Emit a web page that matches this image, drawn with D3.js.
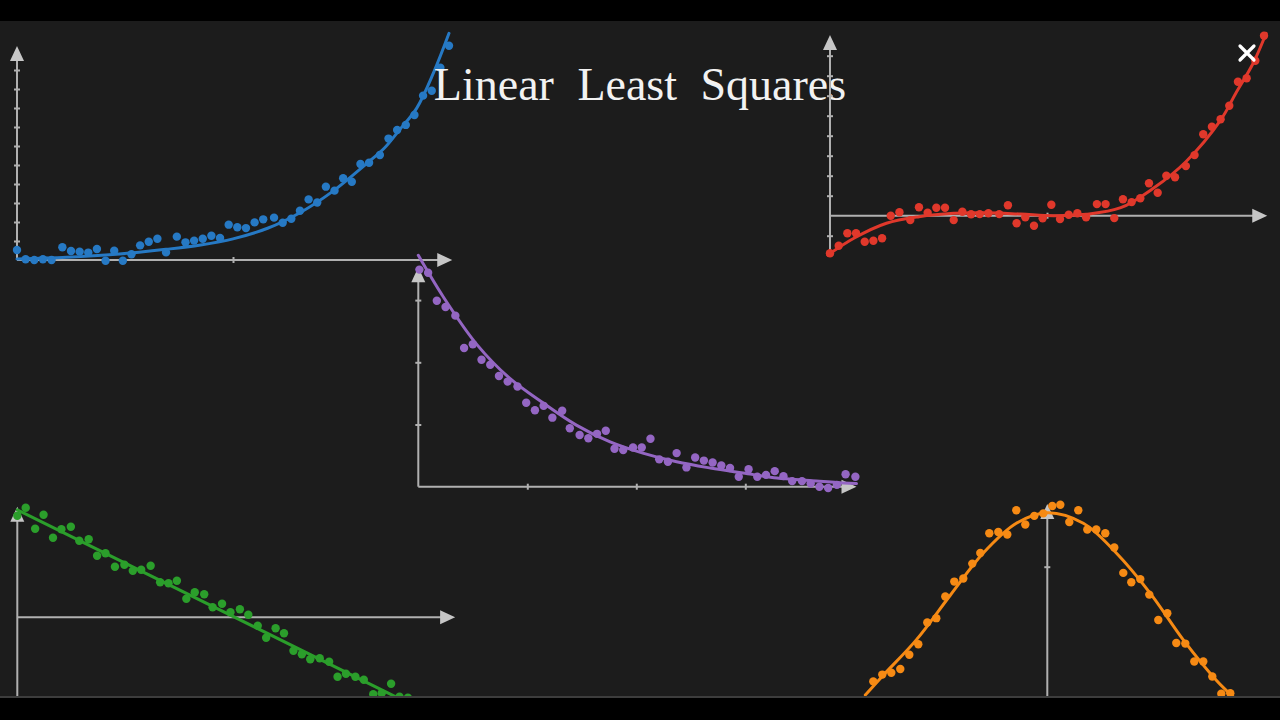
<!DOCTYPE html>
<html><head><meta charset="utf-8">
<script src="https://cdn.jsdelivr.net/npm/d3@7"></script>
<style>html,body{margin:0;padding:0;background:#000;overflow:hidden}</style>
</head><body><svg id="c" width="1280" height="720"></svg>
<script>
const titleText = "Linear Least Squares";

// ---- Blue panel (exponential growth) ----
const blueDots = [[0.00,0.53],[0.04,0.04],[0.08,0.00],[0.12,0.04],[0.16,0.00],[0.21,0.67],[0.25,0.47],[0.29,0.44],[0.33,0.39],[0.37,0.58],[0.41,-0.04],[0.45,0.49],[0.49,-0.04],[0.53,0.30],[0.57,0.77],[0.61,0.96],[0.65,1.12],[0.69,0.40],[0.74,1.23],[0.78,0.93],[0.82,1.02],[0.86,1.12],[0.90,1.28],[0.94,1.16],[0.98,1.86],[1.02,1.72],[1.06,1.68],[1.10,1.98],[1.14,2.14],[1.19,2.23],[1.23,1.96],[1.27,2.17],[1.31,2.59],[1.35,3.19],[1.39,3.03],[1.43,3.86],[1.47,3.65],[1.51,4.30],[1.55,4.12],[1.59,5.05],[1.63,5.12],[1.68,5.53],[1.72,6.39],[1.76,6.84],[1.80,7.11],[1.84,7.63],[1.88,8.65],[1.92,8.91],[1.96,10.12],[2.00,11.28]];
const blueFit = [[0.00,0.05],[0.23,0.14],[0.46,0.30],[0.69,0.56],[0.85,0.79],[1.00,1.11],[1.16,1.67],[1.31,2.49],[1.46,3.60],[1.62,5.09],[1.70,5.88],[1.77,6.84],[1.85,7.98],[1.93,9.90],[2.00,11.93]];
const blueXTicks = [1];
const blueYTicks = [1,2,3,4,5,6,7,8,9,10];

// ---- Red panel (cubic) ----
const redDots = [[0.00,-1.88],[0.04,-1.50],[0.08,-0.88],[0.12,-0.88],[0.16,-1.30],[0.20,-1.25],[0.24,-1.13],[0.28,0.00],[0.32,0.17],[0.37,-0.22],[0.41,0.42],[0.45,0.15],[0.49,0.40],[0.53,0.40],[0.57,-0.22],[0.61,0.20],[0.65,0.07],[0.69,0.08],[0.73,0.12],[0.78,0.08],[0.82,0.52],[0.86,-0.38],[0.90,-0.08],[0.94,-0.50],[0.98,-0.13],[1.02,0.55],[1.06,-0.17],[1.10,0.05],[1.14,0.12],[1.18,-0.08],[1.23,0.58],[1.27,0.58],[1.31,-0.12],[1.35,0.82],[1.39,0.68],[1.43,0.87],[1.47,1.62],[1.51,1.15],[1.55,2.00],[1.59,1.92],[1.64,2.48],[1.68,3.03],[1.72,4.07],[1.76,4.45],[1.80,4.82],[1.84,5.50],[1.88,6.70],[1.92,6.87],[1.96,7.75],[2.00,9.00]];
const redFit = [[-0.01,-1.97],[0.11,-1.13],[0.26,-0.38],[0.41,-0.05],[0.57,0.12],[0.72,0.15],[0.88,0.08],[1.03,0.00],[1.18,0.07],[1.34,0.40],[1.49,1.37],[1.64,2.70],[1.80,4.78],[1.87,6.12],[1.95,7.62],[2.01,9.12]];
const redXTicks = [1];
const redYTicks = [-1,1,2,3,4,5,6,7,8];

// ---- Purple panel (exponential decay) ----
const purpleDots = [[0.01,3.49],[0.09,3.44],[0.17,2.99],[0.25,2.89],[0.34,2.75],[0.42,2.23],[0.50,2.29],[0.58,2.04],[0.66,1.96],[0.74,1.78],[0.82,1.69],[0.91,1.61],[0.99,1.35],[1.07,1.23],[1.15,1.30],[1.23,1.11],[1.32,1.22],[1.39,0.94],[1.48,0.83],[1.56,0.78],[1.64,0.85],[1.72,0.90],[1.80,0.61],[1.88,0.59],[1.97,0.63],[2.05,0.63],[2.13,0.77],[2.21,0.44],[2.29,0.40],[2.37,0.54],[2.46,0.31],[2.54,0.47],[2.62,0.42],[2.70,0.39],[2.78,0.34],[2.86,0.30],[2.94,0.16],[3.03,0.28],[3.11,0.16],[3.19,0.19],[3.27,0.25],[3.35,0.17],[3.43,0.09],[3.52,0.09],[3.60,0.05],[3.68,0.00],[3.76,-0.02],[3.84,0.03],[3.92,0.20],[4.01,0.16]];
const purpleFit = [[0.00,3.72],[0.23,3.05],[0.54,2.28],[0.84,1.74],[1.15,1.34],[1.45,0.99],[1.76,0.72],[2.06,0.54],[2.37,0.40],[2.68,0.30],[2.98,0.22],[3.29,0.14],[3.59,0.10],[3.90,0.06],[4.02,0.05]];
const purpleXTicks = [1,2,3];
const purpleYTicks = [1,2,3];

// ---- Green panel (straight line) ----
const greenDots = [[0.00,2.03],[0.08,2.19],[0.17,1.77],[0.25,2.05],[0.34,1.59],[0.42,1.76],[0.51,1.81],[0.59,1.53],[0.68,1.56],[0.76,1.23],[0.84,1.28],[0.93,1.01],[1.02,1.05],[1.10,0.93],[1.18,0.95],[1.27,1.03],[1.36,0.70],[1.44,0.68],[1.52,0.73],[1.61,0.37],[1.69,0.50],[1.78,0.46],[1.86,0.20],[1.95,0.27],[2.03,0.10],[2.12,0.16],[2.20,0.05],[2.29,-0.17],[2.37,-0.41],[2.46,-0.22],[2.54,-0.32],[2.63,-0.67],[2.71,-0.74],[2.79,-0.84],[2.88,-0.82],[2.97,-0.89],[3.05,-1.19],[3.13,-1.13],[3.22,-1.19],[3.30,-1.25],[3.39,-1.54],[3.47,-1.52],[3.56,-1.33],[3.64,-1.59],[3.72,-1.61]];
const greenFit = [[0.00,2.15],[4.00,-2.00]];
const greenXTicks = [];
const greenYTicks = [];

// ---- Orange panel (Gaussian) ----
const orangeDots = [[-1.74,1.15],[-1.65,1.26],[-1.56,1.29],[-1.47,1.35],[-1.38,1.58],[-1.29,1.75],[-1.20,2.10],[-1.11,2.17],[-1.02,2.52],[-0.93,2.76],[-0.84,2.81],[-0.75,3.05],[-0.67,3.22],[-0.58,3.54],[-0.49,3.56],[-0.40,3.52],[-0.31,3.91],[-0.22,3.68],[-0.13,3.82],[-0.04,3.86],[0.05,3.98],[0.13,4.00],[0.22,3.72],[0.31,3.91],[0.40,3.60],[0.49,3.60],[0.58,3.54],[0.67,3.31],[0.76,2.90],[0.84,2.75],[0.93,2.80],[1.02,2.55],[1.11,2.14],[1.20,2.25],[1.29,1.77],[1.38,1.76],[1.47,1.47],[1.56,1.47],[1.65,1.23],[1.74,0.95],[1.83,0.96]];
const orangeFit = [[-1.82,0.93],[-1.64,1.25],[-1.31,1.82],[-0.97,2.54],[-0.64,3.22],[-0.31,3.70],[0.00,3.87],[0.36,3.70],[0.69,3.22],[1.03,2.57],[1.36,1.82],[1.69,1.17],[1.86,0.90]];
const orangeXTicks = [];
const orangeYTicks = [3];

const svg = d3.select("#c");
svg.append("rect").attr("width",1280).attr("height",720).attr("fill","#1c1c1c");

const AXIS = "#b0b0b0", ARROW = "#c6c6c6", AL = 15, AW = 7;

function drawPanel(p) {
  const x = d3.scaleLinear().domain([0,1]).range([p.ox, p.ox + p.ux]);
  const y = d3.scaleLinear().domain([0,1]).range([p.oy, p.oy - p.uy]);
  const g = svg.append("g");
  const y0 = y(0), x0 = x(0);
  // x axis
  const xe = x(p.xAxis[1]);
  g.append("line").attr("x1", x(p.xAxis[0])).attr("x2", xe - AL + 1).attr("y1", y0).attr("y2", y0)
    .attr("stroke", AXIS).attr("stroke-width", 2);
  g.append("path").attr("d", `M${xe},${y0}L${xe-AL},${y0-AW}L${xe-AL},${y0+AW}Z`).attr("fill", ARROW);
  // y axis
  const ye = y(p.yAxis[1]);
  g.append("line").attr("x1", x0).attr("x2", x0).attr("y1", y(p.yAxis[0])).attr("y2", ye + AL - 1)
    .attr("stroke", AXIS).attr("stroke-width", 2);
  g.append("path").attr("d", `M${x0},${ye}L${x0-AW},${ye+AL}L${x0+AW},${ye+AL}Z`).attr("fill", ARROW);
  // ticks
  const gx = g.append("g").attr("transform", `translate(0,${y0-3})`)
    .call(d3.axisBottom(x).tickValues(p.xTicks).tickSize(6).tickFormat(""));
  gx.select(".domain").remove();
  gx.selectAll("line").attr("stroke", AXIS).attr("stroke-width", 2);
  const gy = g.append("g").attr("transform", `translate(${x0+3},0)`)
    .call(d3.axisLeft(y).tickValues(p.yTicks).tickSize(6).tickFormat(""));
  gy.select(".domain").remove();
  gy.selectAll("line").attr("stroke", AXIS).attr("stroke-width", 2);
  // fit curve
  const line = d3.line().x(d => x(d[0])).y(d => y(d[1])).curve(d3.curveCatmullRom.alpha(0.5));
  g.append("path").datum(p.fit).attr("d", line).attr("fill", "none")
    .attr("stroke", p.color).attr("stroke-width", 3).attr("stroke-linecap", "round");
  // dots
  g.selectAll("circle.d").data(p.dots).join("circle").attr("class","d")
    .attr("cx", d => x(d[0])).attr("cy", d => y(d[1])).attr("r", 4.2).attr("fill", p.color);
}

drawPanel({ox:17, oy:260, ux:216, uy:19, xAxis:[0,2.015], yAxis:[0,11.26],
  xTicks:blueXTicks, yTicks:blueYTicks, dots:blueDots, fit:blueFit, color:"#2679c4"});

svg.append("text").attr("x", 640).attr("y", 100).attr("text-anchor","middle")
  .attr("font-family","'Liberation Serif', 'DejaVu Serif', serif").attr("font-size", 46)
  .attr("word-spacing", 12).attr("fill", "#f2f2f2").text(titleText);

drawPanel({ox:830, oy:215.7, ux:217, uy:20, xAxis:[0,2.015], yAxis:[-1.9,9.04],
  xTicks:redXTicks, yTicks:redYTicks, dots:redDots, fit:redFit, color:"#e0382b"});
drawPanel({ox:418.3, oy:486.7, ux:109, uy:62.2, xAxis:[0,4.02], yAxis:[0,3.53],
  xTicks:purpleXTicks, yTicks:purpleYTicks, dots:purpleDots, fit:purpleFit, color:"#9466c3"});
drawPanel({ox:17.3, oy:617.3, ux:105, uy:50, xAxis:[0,4.17], yAxis:[-2.2,2.21],
  xTicks:greenXTicks, yTicks:greenYTicks, dots:greenDots, fit:greenFit, color:"#2b9e2b"});
drawPanel({ox:1047.3, oy:752.7, ux:100, uy:62, xAxis:[-2.2,2.2], yAxis:[0,4.01],
  xTicks:orangeXTicks, yTicks:orangeYTicks, dots:orangeDots, fit:orangeFit, color:"#f68a14"});

// close icon
svg.append("path").attr("d","M1240,46L1254,60M1254,46L1240,60").attr("stroke","#ffffff")
  .attr("stroke-width",3.2).attr("stroke-linecap","round");

// letterbox bars
svg.append("rect").attr("x",0).attr("y",0).attr("width",1280).attr("height",21).attr("fill","#000");
svg.append("rect").attr("x",0).attr("y",696).attr("width",1280).attr("height",2).attr("fill","#3d3d3d");
svg.append("rect").attr("x",0).attr("y",698).attr("width",1280).attr("height",22).attr("fill","#000");
</script></body></html>
